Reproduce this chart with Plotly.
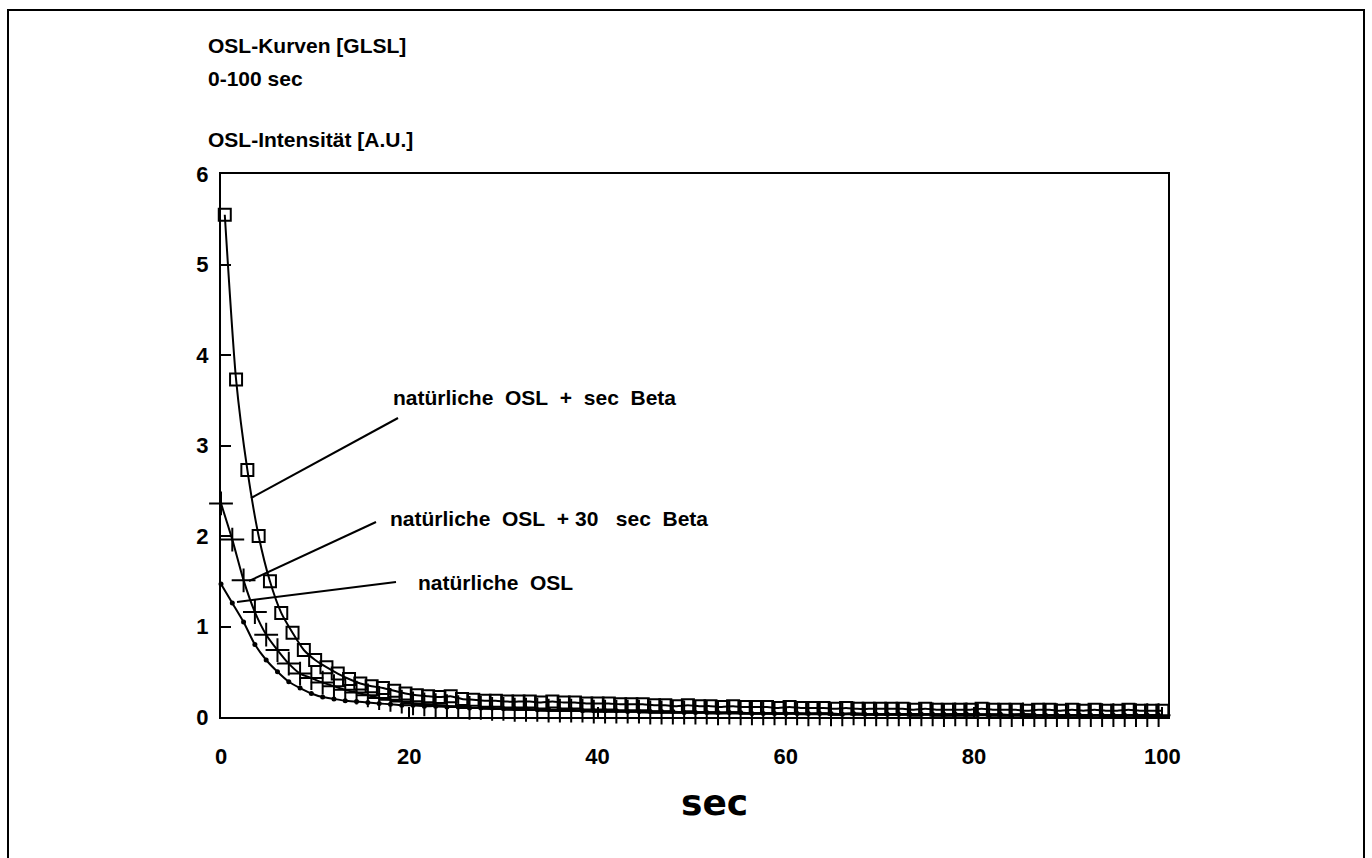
import plotly.graph_objects as go

# ---------------- data ----------------
step = 1.2  # channel spacing of the plotted points [sec]

beta_sec_vals = [5.55, 3.73, 2.73, 2.00, 1.50, 1.15, 0.93, 0.74, 0.63, 0.55,
                 0.48, 0.42, 0.37, 0.34, 0.32, 0.29, 0.26, 0.24, 0.23, 0.22,
                 0.23, 0.20, 0.19, 0.18, 0.18, 0.17, 0.17, 0.17, 0.16, 0.17,
                 0.16, 0.16, 0.15, 0.15, 0.15, 0.14, 0.14, 0.14, 0.13, 0.13,
                 0.12, 0.13, 0.12, 0.12, 0.11, 0.12, 0.11, 0.11, 0.11, 0.10,
                 0.11, 0.10, 0.10, 0.10, 0.09, 0.10, 0.09, 0.09, 0.09, 0.09,
                 0.09, 0.08, 0.09, 0.08, 0.08, 0.08, 0.08, 0.09, 0.08, 0.08,
                 0.08, 0.07, 0.08, 0.08, 0.07, 0.08, 0.07, 0.08, 0.07, 0.07,
                 0.08, 0.07, 0.07, 0.07]

beta30_vals = [2.36, 1.96, 1.51, 1.16, 0.91, 0.74, 0.59, 0.48, 0.43, 0.38,
               0.34, 0.30, 0.27, 0.24, 0.21, 0.19, 0.17, 0.15, 0.14, 0.13,
               0.12, 0.11, 0.10, 0.10, 0.09, 0.09, 0.08, 0.08, 0.08, 0.07,
               0.07, 0.07, 0.07, 0.06, 0.06, 0.06, 0.06, 0.06, 0.05, 0.05,
               0.05, 0.05, 0.05, 0.05, 0.04, 0.05, 0.04, 0.04, 0.04, 0.04,
               0.04, 0.04, 0.03, 0.04, 0.03, 0.03, 0.04, 0.03, 0.03, 0.03,
               0.03, 0.03, 0.03, 0.03, 0.02, 0.03, 0.03, 0.02, 0.03, 0.02,
               0.02, 0.03, 0.02, 0.02, 0.02, 0.02, 0.02, 0.02, 0.02, 0.02,
               0.02, 0.02, 0.02, 0.02]

natural_vals = [1.47, 1.26, 1.05, 0.80, 0.63, 0.50, 0.39, 0.32, 0.26, 0.22,
                0.20, 0.18, 0.17, 0.16, 0.15, 0.14, 0.13, 0.13, 0.12, 0.12,
                0.11, 0.11, 0.10, 0.10, 0.10, 0.09, 0.09, 0.09, 0.08, 0.08,
                0.08, 0.08, 0.07, 0.07, 0.07, 0.07, 0.06, 0.06, 0.06, 0.06,
                0.06, 0.05, 0.05, 0.05, 0.05, 0.05, 0.05, 0.04, 0.04, 0.04,
                0.04, 0.04, 0.04, 0.04, 0.04, 0.03, 0.04, 0.03, 0.03, 0.03,
                0.03, 0.03, 0.03, 0.03, 0.03, 0.03, 0.03, 0.03, 0.02, 0.03,
                0.02, 0.03, 0.02, 0.02, 0.02, 0.02, 0.02, 0.02, 0.02, 0.02,
                0.02, 0.02, 0.02, 0.02]

beta_sec_t = [round(0.4 + step * k, 2) for k in range(len(beta_sec_vals))]
beta30_t = [round(step * k, 2) for k in range(len(beta30_vals))]
natural_t = [round(step * k, 2) for k in range(len(natural_vals))]

x_ticks = [0, 20, 40, 60, 80, 100]
y_ticks = [0, 1, 2, 3, 4, 5, 6]

title_lines = ["OSL-Kurven [GLSL]", "0-100 sec"]
y_title = "OSL-Intensität [A.U.]"
x_title = "sec"
labels = ["natürliche  OSL  +  sec  Beta",
          "natürliche  OSL  + 30   sec  Beta",
          "natürliche  OSL"]

# ---------------- layout geometry (pixels) ----------------
W, H = 1372, 858
L, R, T, B = 221, 1168, 174, 717


def px(x):
    return (x - L) / (R - L)


def py(y):
    return (B - y) / (B - T)


FONT = "Liberation Sans"

fig = go.Figure()

line_style = dict(color="black", width=2, shape="spline", smoothing=0.6)

fig.add_trace(go.Scatter(
    x=natural_t, y=natural_vals, mode="lines+markers",
    line=line_style,
    marker=dict(symbol="circle", size=5, color="black"),
    cliponaxis=False, showlegend=False))

fig.add_trace(go.Scatter(
    x=beta30_t, y=beta30_vals, mode="lines+markers",
    line=line_style,
    marker=dict(symbol="cross-thin", size=17, color="black",
                line=dict(color="black", width=2)),
    cliponaxis=False, showlegend=False))

fig.add_trace(go.Scatter(
    x=beta_sec_t, y=beta_sec_vals, mode="lines+markers",
    line=line_style,
    marker=dict(symbol="square-open", size=12, color="black",
                line=dict(color="black", width=2)),
    cliponaxis=False, showlegend=False))

tickfont = dict(family=FONT, size=22, color="black", weight="bold")

fig.update_xaxes(range=[0, 100.6], tickvals=x_ticks, ticks="inside",
                 ticklen=10, tickwidth=2, tickcolor="black",
                 showline=True, linewidth=2, linecolor="black", mirror=True,
                 showgrid=False, zeroline=False, tickfont=tickfont,
                 ticklabelstandoff=19)
fig.update_yaxes(range=[0, 6], tickvals=y_ticks, ticks="inside",
                 ticklen=10, tickwidth=2, tickcolor="black",
                 showline=True, linewidth=2, linecolor="black", mirror=True,
                 showgrid=False, zeroline=False, tickfont=tickfont,
                 ticklabelstandoff=6)

ann = []
bold21 = dict(family=FONT, size=21, color="black", weight="bold")
ann.append(dict(text=title_lines[0], x=px(206), y=py(45), xref="paper", yref="paper",
                xanchor="left", yanchor="middle", showarrow=False, font=bold21))
ann.append(dict(text=title_lines[1], x=px(206), y=py(79), xref="paper", yref="paper",
                xanchor="left", yanchor="middle", showarrow=False, font=bold21))
ann.append(dict(text=y_title, x=px(206), y=py(139), xref="paper", yref="paper",
                xanchor="left", yanchor="middle", showarrow=False, font=bold21))
ann.append(dict(text=x_title, x=px(714), y=py(802), xref="paper", yref="paper",
                xanchor="center", yanchor="middle", showarrow=False,
                font=dict(family="DejaVu Sans", size=36, color="black", weight="bold")))

label_pos = [(391, 397), (388, 518), (416, 582)]
for txt, (lx, ly) in zip(labels, label_pos):
    ann.append(dict(text=txt.replace(" ", "\u00a0"), x=px(lx), y=py(ly),
                    xref="paper", yref="paper", xanchor="left", yanchor="middle",
                    showarrow=False,
                    font=dict(family=FONT, size=21, color="black", weight="bold")))

shapes = []
leader_lines = [((398, 418), (251, 498)), ((376, 522), (249, 581)), ((396, 582), (237, 602))]
for (x0, y0), (x1, y1) in leader_lines:
    shapes.append(dict(type="line", xref="paper", yref="paper",
                       x0=px(x0), y0=py(y0), x1=px(x1), y1=py(y1),
                       line=dict(color="black", width=2)))

# outer frame (left, top, right; open at the bottom)
fl, ft, fr, fb = 8, 10, 1364, 870
shapes.append(dict(type="path", xref="paper", yref="paper",
                   path=f"M {px(fl)} {py(fb)} L {px(fl)} {py(ft)} L {px(fr)} {py(ft)} L {px(fr)} {py(fb)}",
                   line=dict(color="black", width=2)))

fig.update_layout(width=W, height=H, margin=dict(l=L, r=W - R, t=T, b=H - B),
                  paper_bgcolor="white", plot_bgcolor="white",
                  annotations=ann, shapes=shapes, showlegend=False)

fig.write_html("out.html")
